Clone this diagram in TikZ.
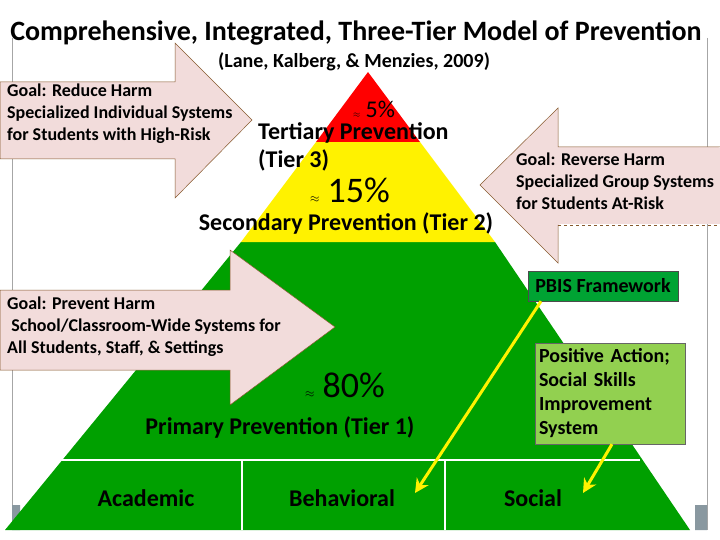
\documentclass[tikz,border=0pt]{standalone}
\usepackage{fontspec}
\setmainfont{Carlito}
\usetikzlibrary{arrows.meta}
\definecolor{pk}{RGB}{242,220,219}
\definecolor{gr}{RGB}{0,160,0}
\begin{document}
\begin{tikzpicture}[x=1pt,y=-1pt,
  goal/.style={fill=pk,draw=brown!70!black,line width=0.5pt},
  lbl/.style={font=\bfseries,inner sep=0pt},
  yarr/.style={yellow,line width=3pt,-{Stealth[length=14pt,width=14pt]}}]
\useasboundingbox (0,0) rectangle (720,540);
\fill[white] (0,0) rectangle (720,540);
\draw[gray!70,line width=1pt] (12,38) -- (12,530) (707,38) -- (707,530);
\fill[gray!60!cyan!40!gray] (12,505) rectangle (20,530) (695,505) rectangle (707,530);
% pyramid
\coordinate (apex) at (368,72);
\fill[gr] (5,530) -- (690,530) -- (495,242) -- (241,242) -- cycle;
\fill[yellow] (241,242) -- (495,242) -- (420,142) -- (316,142) -- cycle;
\fill[red] (316,142) -- (420,142) -- (apex) -- cycle;
\draw[white,line width=2.5pt] (22,460) -- (640,460) (242,460) -- (242,530) (445,460) -- (445,530);
% title
\node[lbl,font=\bfseries\fontsize{28}{32}\selectfont] (title) at (356,33) {Comprehensive, Integrated, Three-Tier Model of Prevention};
\node[lbl,font=\bfseries\fontsize{20}{24}\selectfont] (cite) at (354,62) {(Lane, Kalberg, \& Menzies, 2009)};
% arrows
\draw[goal] (0,82) -- (175,82) -- (175,43) -- (252,120) -- (175,198) -- (175,159) -- (0,159) -- cycle;
\node[lbl,font=\bfseries\fontsize{18}{22}\selectfont,align=left,anchor=north west] (g1) at (7,84) {Goal: Reduce Harm\\Specialized Individual Systems\\for Students with High-Risk};
\draw[goal] (720,147) -- (558,147) -- (558,108) -- (480,185) -- (558,263) -- (558,225);
\draw[brown!70!black,dashed,line width=0.5pt] (558,225) -- (720,225);
\fill[pk] (559,148) rectangle (720,224.5);
\node[lbl,font=\bfseries\fontsize{18}{22}\selectfont,align=left,anchor=north west] (g2) at (516,153) {Goal: Reverse Harm\\Specialized Group Systems\\for Students At-Risk};
\draw[goal] (0,290) -- (230,290) -- (230,250) -- (335,327) -- (230,405) -- (230,370) -- (0,370) -- cycle;
\node[lbl,font=\bfseries\fontsize{18}{22}\selectfont,align=left,anchor=north west] (g3) at (7,297) {Goal: Prevent Harm\\\ School/Classroom-Wide Systems for\\All Students, Staff, \& Settings};
% tier labels
\node[lbl,font=\fontsize{24}{28}\selectfont] (p5) at (374,109) {{\small$\approx$} 5\%};
\node[lbl,font=\bfseries\fontsize{24}{28}\selectfont,anchor=west] (t3) at (258,133) {Tertiary Prevention};
\node[lbl,font=\bfseries\fontsize{24}{28}\selectfont,anchor=west] (t3b) at (258,160) {(Tier 3)};
\node[lbl,font=\fontsize{36}{40}\selectfont] (p15) at (350,190) {{\large$\approx$} 15\%};
\node[lbl,font=\bfseries\fontsize{24}{28}\selectfont] (t2) at (346,223) {Secondary Prevention (Tier 2)};
\node[lbl,font=\fontsize{36}{40}\selectfont] (p80) at (345,385) {{\large$\approx$} 80\%};
\node[lbl,font=\bfseries\fontsize{24}{28}\selectfont] (t1) at (280,427) {Primary Prevention (Tier 1)};
\node[lbl,font=\bfseries\fontsize{24}{28}\selectfont] (ac) at (146,498) {Academic};
\node[lbl,font=\bfseries\fontsize{24}{28}\selectfont] (be) at (342,498) {Behavioral};
\node[lbl,font=\bfseries\fontsize{24}{28}\selectfont] (so) at (533,498) {Social};
% boxes
\node[draw=black!70,fill=green!55!black!80!cyan,minimum width=150pt,minimum height=30pt,font=\bfseries\fontsize{20}{24}\selectfont,inner sep=2pt] (pbis) at (603,286) {PBIS Framework};
\node[draw=black!60,fill={rgb,255:red,146;green,208;blue,80},minimum width=150pt,minimum height=101pt,font=\bfseries\fontsize{20}{24}\selectfont,align=left,text width=142pt] (pa) at (610,393.5) {Positive Action;\\Social Skills\\Improvement\\System};
\coordinate (e1) at (415,493);
\coordinate (e2) at (583,493);
\draw[yarr] ([xshift=-62pt]pbis.south) -- (e1);
\draw[yarr] ([xshift=2pt]pa.south) -- (e2);
\end{tikzpicture}
\end{document}
